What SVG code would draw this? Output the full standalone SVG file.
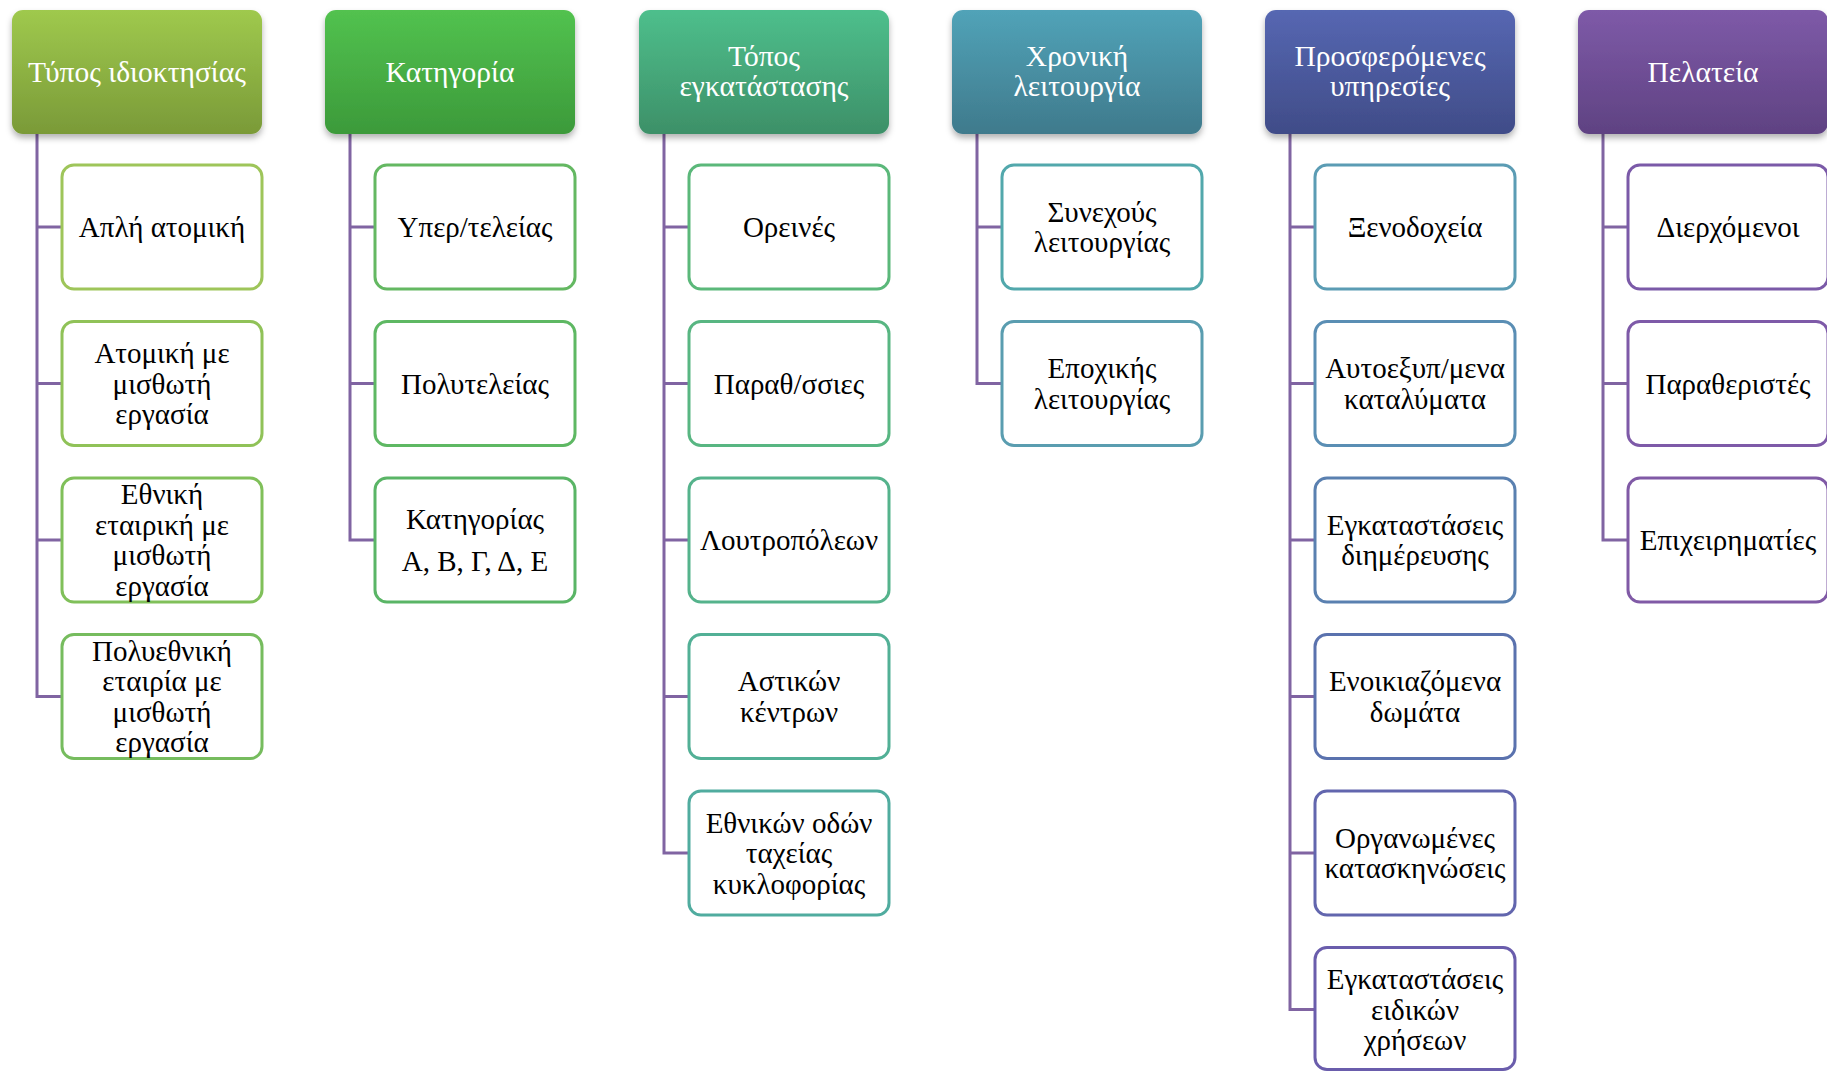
<svg xmlns="http://www.w3.org/2000/svg" width="1827" height="1071" viewBox="0 0 1827 1071">
<style>
.hd{stroke:none}
.ch{fill:#ffffff;stroke-width:3}
.ht{font-family:"Liberation Serif","Times New Roman",serif;font-size:29.5px;fill:#ffffff;text-anchor:middle}
.ct{font-family:"Liberation Serif","Times New Roman",serif;font-size:29px;fill:#000000;text-anchor:middle}
.con{fill:none;stroke:#8064A2;stroke-width:3}
</style>
<defs>
<filter id="sh" x="-10%" y="-10%" width="120%" height="130%">
<feDropShadow dx="0" dy="4" stdDeviation="3" flood-color="#000" flood-opacity="0.3"/>
</filter>
<linearGradient id="g1" x1="0" y1="0" x2="0" y2="1"><stop offset="0" stop-color="#9FC94D"/><stop offset="1" stop-color="#7A9A38"/></linearGradient>
<linearGradient id="g2" x1="0" y1="0" x2="0" y2="1"><stop offset="0" stop-color="#52C24F"/><stop offset="1" stop-color="#3C9A3A"/></linearGradient>
<linearGradient id="g3" x1="0" y1="0" x2="0" y2="1"><stop offset="0" stop-color="#4EBF8C"/><stop offset="1" stop-color="#3D9068"/></linearGradient>
<linearGradient id="g4" x1="0" y1="0" x2="0" y2="1"><stop offset="0" stop-color="#51A3B8"/><stop offset="1" stop-color="#3F7A8C"/></linearGradient>
<linearGradient id="g5" x1="0" y1="0" x2="0" y2="1"><stop offset="0" stop-color="#5667B2"/><stop offset="1" stop-color="#404C88"/></linearGradient>
<linearGradient id="g6" x1="0" y1="0" x2="0" y2="1"><stop offset="0" stop-color="#7E5AA8"/><stop offset="1" stop-color="#5F4282"/></linearGradient>
</defs>

<g id="connectors">
<path class="con" d="M37,134 V698 M37,227 H62 M37,383.5 H62 M37,540 H62 M37,696.5 H62"/>
<path class="con" d="M350,134 V541.5 M350,227 H375 M350,383.5 H375 M350,540 H375"/>
<path class="con" d="M664,134 V854.5 M664,227 H689 M664,383.5 H689 M664,540 H689 M664,696.5 H689 M664,853 H689"/>
<path class="con" d="M977,134 V385 M977,227 H1002 M977,383.5 H1002"/>
<path class="con" d="M1290,134 V1011 M1290,227 H1315 M1290,383.5 H1315 M1290,540 H1315 M1290,696.5 H1315 M1290,853 H1315 M1290,1009.5 H1315"/>
<path class="con" d="M1603,134 V541.5 M1603,227 H1628 M1603,383.5 H1628 M1603,540 H1628"/>
</g>

<g id="h1"><rect class="hd" x="12" y="10" width="250" height="124" rx="11" fill="url(#g1)" filter="url(#sh)"/><text class="ht" x="137" y="81.5">Τύπος ιδιοκτησίας</text></g>
<g id="h2"><rect class="hd" x="325" y="10" width="250" height="124" rx="11" fill="url(#g2)" filter="url(#sh)"/><text class="ht" x="450" y="81.5">Κατηγορία</text></g>
<g id="h3"><rect class="hd" x="639" y="10" width="250" height="124" rx="11" fill="url(#g3)" filter="url(#sh)"/><text class="ht" x="764" y="65.5">Τόπος</text><text class="ht" x="764" y="95.5">εγκατάστασης</text></g>
<g id="h4"><rect class="hd" x="952" y="10" width="250" height="124" rx="11" fill="url(#g4)" filter="url(#sh)"/><text class="ht" x="1077" y="65.5">Χρονική</text><text class="ht" x="1077" y="95.5">λειτουργία</text></g>
<g id="h5"><rect class="hd" x="1265" y="10" width="250" height="124" rx="11" fill="url(#g5)" filter="url(#sh)"/><text class="ht" x="1390" y="65.5">Προσφερόμενες</text><text class="ht" x="1390" y="95.5">υπηρεσίες</text></g>
<g id="h6"><rect class="hd" x="1578" y="10" width="250" height="124" rx="11" fill="url(#g6)" filter="url(#sh)"/><text class="ht" x="1703" y="81.5">Πελατεία</text></g>

<g id="c1-1"><rect class="ch" x="62" y="165" width="200" height="124" rx="12" stroke="#9EC55A"/><text class="ct" x="162" y="237">Απλή ατομική</text></g>
<g id="c1-2"><rect class="ch" x="62" y="321.5" width="200" height="124" rx="12" stroke="#90C258"/><text class="ct" x="162" y="363">Ατομική με</text><text class="ct" x="162" y="393.5">μισθωτή</text><text class="ct" x="162" y="424">εργασία</text></g>
<g id="c1-3"><rect class="ch" x="62" y="478" width="200" height="124" rx="12" stroke="#80C05A"/><text class="ct" x="162" y="504.25">Εθνική</text><text class="ct" x="162" y="534.75">εταιρική με</text><text class="ct" x="162" y="565.25">μισθωτή</text><text class="ct" x="162" y="595.75">εργασία</text></g>
<g id="c1-4"><rect class="ch" x="62" y="634.5" width="200" height="124" rx="12" stroke="#76BC5E"/><text class="ct" x="162" y="660.75">Πολυεθνική</text><text class="ct" x="162" y="691.25">εταιρία με</text><text class="ct" x="162" y="721.75">μισθωτή</text><text class="ct" x="162" y="752.25">εργασία</text></g>

<g id="c2-1"><rect class="ch" x="375" y="165" width="200" height="124" rx="12" stroke="#64B862"/><text class="ct" x="475" y="237">Υπερ/τελείας</text></g>
<g id="c2-2"><rect class="ch" x="375" y="321.5" width="200" height="124" rx="12" stroke="#5EB863"/><text class="ct" x="475" y="393.5">Πολυτελείας</text></g>
<g id="c2-3"><rect class="ch" x="375" y="478" width="200" height="124" rx="12" stroke="#5AB566"/><text class="ct" x="475" y="529">Κατηγορίας</text><text class="ct" x="475" y="571">Α, Β, Γ, Δ, Ε</text></g>

<g id="c3-1"><rect class="ch" x="689" y="165" width="200" height="124" rx="12" stroke="#5BB87A"/><text class="ct" x="789" y="237">Ορεινές</text></g>
<g id="c3-2"><rect class="ch" x="689" y="321.5" width="200" height="124" rx="12" stroke="#58B682"/><text class="ct" x="789" y="393.5">Παραθ/σσιες</text></g>
<g id="c3-3"><rect class="ch" x="689" y="478" width="200" height="124" rx="12" stroke="#55B38C"/><text class="ct" x="789" y="550">Λουτροπόλεων</text></g>
<g id="c3-4"><rect class="ch" x="689" y="634.5" width="200" height="124" rx="12" stroke="#52B096"/><text class="ct" x="789" y="691.25">Αστικών</text><text class="ct" x="789" y="721.75">κέντρων</text></g>
<g id="c3-5"><rect class="ch" x="689" y="791" width="200" height="124" rx="12" stroke="#50AC9F"/><text class="ct" x="789" y="832.5">Εθνικών οδών</text><text class="ct" x="789" y="863">ταχείας</text><text class="ct" x="789" y="893.5">κυκλοφορίας</text></g>

<g id="c4-1"><rect class="ch" x="1002" y="165" width="200" height="124" rx="12" stroke="#52A8AC"/><text class="ct" x="1102" y="221.75">Συνεχούς</text><text class="ct" x="1102" y="252.25">λειτουργίας</text></g>
<g id="c4-2"><rect class="ch" x="1002" y="321.5" width="200" height="124" rx="12" stroke="#5A9DB0"/><text class="ct" x="1102" y="378.25">Εποχικής</text><text class="ct" x="1102" y="408.75">λειτουργίας</text></g>

<g id="c5-1"><rect class="ch" x="1315" y="165" width="200" height="124" rx="12" stroke="#5B9CB4"/><text class="ct" x="1415" y="237">Ξενοδοχεία</text></g>
<g id="c5-2"><rect class="ch" x="1315" y="321.5" width="200" height="124" rx="12" stroke="#5A8EB4"/><text class="ct" x="1415" y="378.25">Αυτοεξυπ/μενα</text><text class="ct" x="1415" y="408.75">καταλύματα</text></g>
<g id="c5-3"><rect class="ch" x="1315" y="478" width="200" height="124" rx="12" stroke="#5A80B0"/><text class="ct" x="1415" y="534.75">Εγκαταστάσεις</text><text class="ct" x="1415" y="565.25">διημέρευσης</text></g>
<g id="c5-4"><rect class="ch" x="1315" y="634.5" width="200" height="124" rx="12" stroke="#5A72AE"/><text class="ct" x="1415" y="691.25">Ενοικιαζόμενα</text><text class="ct" x="1415" y="721.75">δωμάτα</text></g>
<g id="c5-5"><rect class="ch" x="1315" y="791" width="200" height="124" rx="12" stroke="#6266AE"/><text class="ct" x="1415" y="847.75">Οργανωμένες</text><text class="ct" x="1415" y="878.25">κατασκηνώσεις</text></g>
<g id="c5-6"><rect class="ch" x="1315" y="947.5" width="200" height="122" rx="12" stroke="#6A5DAC"/><text class="ct" x="1415" y="989">Εγκαταστάσεις</text><text class="ct" x="1415" y="1019.5">ειδικών</text><text class="ct" x="1415" y="1050">χρήσεων</text></g>

<g id="c6-1"><rect class="ch" x="1628" y="165" width="200" height="124" rx="12" stroke="#7B5AA8"/><text class="ct" x="1728" y="237">Διερχόμενοι</text></g>
<g id="c6-2"><rect class="ch" x="1628" y="321.5" width="200" height="124" rx="12" stroke="#7E5AA8"/><text class="ct" x="1728" y="393.5">Παραθεριστές</text></g>
<g id="c6-3"><rect class="ch" x="1628" y="478" width="200" height="124" rx="12" stroke="#805AA6"/><text class="ct" x="1728" y="550">Επιχειρηματίες</text></g>
</svg>
